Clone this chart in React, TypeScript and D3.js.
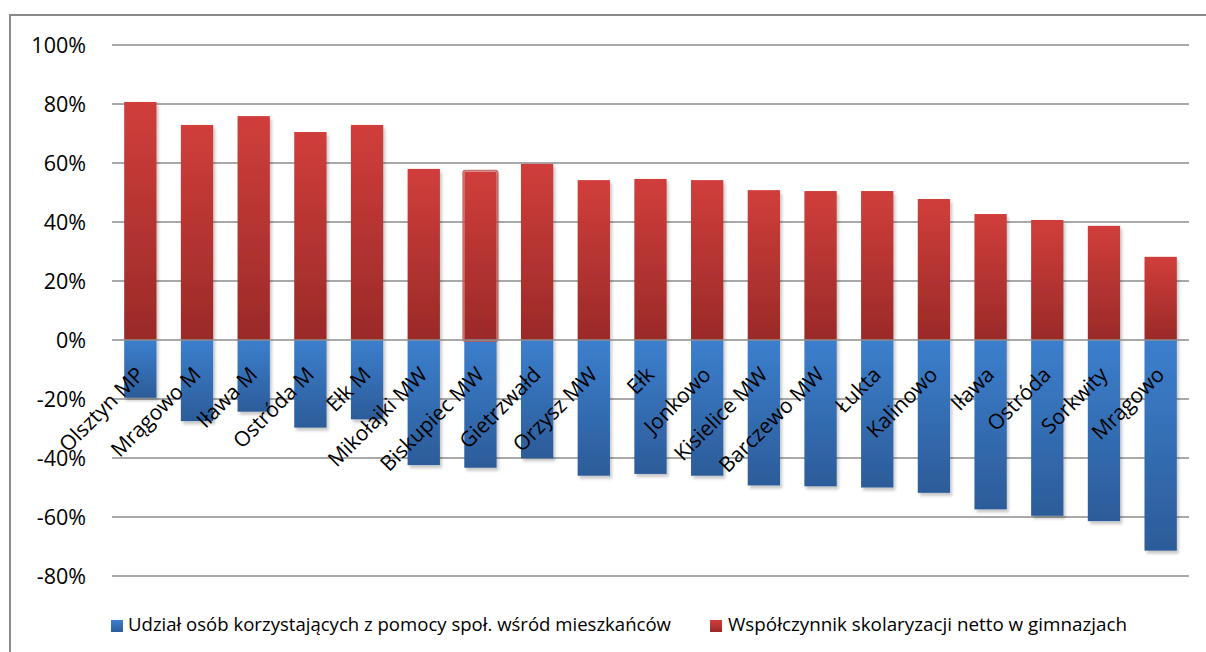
import React from "react";
import * as d3 from "d3";

const categories = ["Olsztyn MP","Mrągowo M","Iława M","Ostróda M","Ełk M","Mikołajki MW","Biskupiec MW","Gietrzwałd","Orzysz MW","Ełk","Jonkowo","Kisielice MW","Barczewo MW","Łukta","Kalinowo","Iława","Ostróda","Sorkwity","Mrągowo"];
const scholarization = [80.7,72.9,75.9,70.5,72.9,58.0,57.0,59.7,54.2,54.6,54.2,50.8,50.5,50.5,47.8,42.7,40.7,38.7,28.2];
const socialAid = [-19.6,-27.5,-24.3,-29.7,-26.9,-42.4,-43.3,-40.1,-46.0,-45.4,-46.0,-49.3,-49.6,-50.0,-51.8,-57.4,-59.6,-61.4,-71.4];
const yTicks = [100,80,60,40,20,0,-20,-40,-60,-80];
const legendLabels = ["Udział osób korzystających z pomocy społ. wśród mieszkańców","Współczynnik skolaryzacji netto w gimnazjach"];
const highlighted = "Biskupiec MW";

const W = 1206, H = 652;
const FONT = "'Open Sans', 'DejaVu Sans', sans-serif";

export default function App() {
  const x = d3.scaleBand<string>().domain(categories).range([112, 1189]).paddingInner(0.43).paddingOuter(0.215);
  const y = d3.scaleLinear().domain([-80, 100]).range([576, 45]);
  const bw = x.bandwidth();

  return (
    <svg width={W} height={H} style={{ position: "absolute", left: 0, top: 0, display: "block", background: "#fff" }} fontFamily={FONT}>
      <defs>
        <linearGradient id="gRed" x1="0" y1="0" x2="0" y2="1">
          <stop offset="0" stopColor="#d03e3b" />
          <stop offset="1" stopColor="#9a2a28" />
        </linearGradient>
        <linearGradient id="gBlue" x1="0" y1="0" x2="0" y2="1">
          <stop offset="0" stopColor="#3c7fcd" />
          <stop offset="1" stopColor="#2c5c99" />
        </linearGradient>
        <filter id="sh" x="-30%" y="-10%" width="160%" height="120%">
          <feDropShadow dx="2" dy="3" stdDeviation="1.6" floodColor="#000" floodOpacity="0.22" />
        </filter>
      </defs>
      <rect x={10} y={15} width={W} height={H} fill="#fff" stroke="#8a8a8a" strokeWidth={2} />
      {yTicks.filter(t => t !== 0).map(t => (
        <line key={t} x1={112} x2={1189} y1={y(t)} y2={y(t)} stroke="#8c8c8c" strokeWidth={1.5} />
      ))}
      {yTicks.map(t => (
        <text key={"l" + t} x={86} y={y(t)} dy="0.36em" textAnchor="end" fontSize={21.5} fill="#000">{t + "%"}</text>
      ))}
      {categories.map((c, i) => (
        <g key={c + i} filter="url(#sh)">
          <rect x={x(c)} y={y(scholarization[i])} width={bw} height={y(0) - y(scholarization[i])} fill="url(#gRed)" />
          <rect x={x(c)} y={y(0)} width={bw} height={y(socialAid[i]) - y(0)} fill="url(#gBlue)" />
        </g>
      ))}
      {categories.map((c, i) => c === highlighted ? (
        <rect key={"h" + i} x={(x(c) as number) - 1} y={y(scholarization[i]) - 1} width={bw + 2} height={y(0) - y(scholarization[i]) + 2} rx={2} fill="none" stroke="#c05a58" strokeOpacity={0.85} strokeWidth={2} />
      ) : null)}
      <line x1={112} x2={1189} y1={y(0)} y2={y(0)} stroke="#8c8c8c" strokeWidth={1.5} />
      {categories.map((c, i) => {
        const cx = (x(c) as number) + bw / 2 + 5;
        const cy = y(0) + 36;
        return (
          <text key={"c" + i} x={cx} y={cy} textAnchor="end" fontSize={21} fill="#000" transform={`rotate(-45 ${cx} ${cy})`}>{c}</text>
        );
      })}
      <rect x={111} y={620} width={12} height={12} fill="url(#gBlue)" />
      <text x={128} y={631} fontSize={19} fill="#000" textLength={543} lengthAdjust="spacingAndGlyphs">{legendLabels[0]}</text>
      <rect x={710} y={620} width={12} height={12} fill="url(#gRed)" />
      <text x={728} y={631} fontSize={19} fill="#000" textLength={399} lengthAdjust="spacingAndGlyphs">{legendLabels[1]}</text>
    </svg>
  );
}
